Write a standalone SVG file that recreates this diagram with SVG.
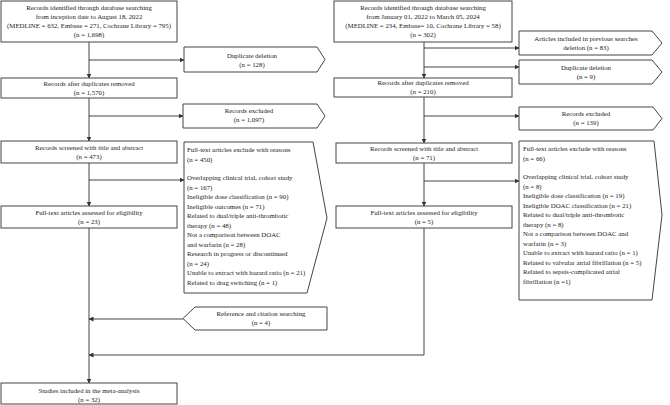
<svg xmlns="http://www.w3.org/2000/svg" width="670" height="405" viewBox="0 0 670 405">
<defs>
<marker id="ah" markerUnits="userSpaceOnUse" markerWidth="5" markerHeight="5" refX="4.5" refY="2.5" orient="auto">
<path d="M0,0 L5,2.5 L0,5 Z" fill="#333"/>
</marker>
<style>
.b{fill:#fff;stroke:#444;stroke-width:1}
.t{font-family:"Liberation Serif","Times New Roman",serif;font-size:6.8px;fill:#222}
.c{text-anchor:middle}
.l{fill:none;stroke:#444;stroke-width:1}
</style>
</defs>
<rect width="670" height="405" fill="#fff"/>
<g id="connectors">
<line class="l" x1="89" y1="42" x2="89" y2="78" marker-end="url(#ah)"/>
<line class="l" x1="89" y1="60" x2="184" y2="60" marker-end="url(#ah)"/>
<line class="l" x1="89" y1="98" x2="89" y2="141" marker-end="url(#ah)"/>
<line class="l" x1="89" y1="116" x2="183" y2="116" marker-end="url(#ah)"/>
<line class="l" x1="89" y1="163" x2="89" y2="206" marker-end="url(#ah)"/>
<line class="l" x1="89" y1="180" x2="184" y2="180" marker-end="url(#ah)"/>
<line class="l" x1="89" y1="228" x2="89" y2="383" marker-end="url(#ah)"/>
<line class="l" x1="183" y1="319" x2="89" y2="319" marker-end="url(#ah)"/>
<path class="l" d="M424,228 L424,355 L89,355" marker-end="url(#ah)"/>
<line class="l" x1="424" y1="42" x2="424" y2="78" marker-end="url(#ah)"/>
<line class="l" x1="424" y1="48" x2="519" y2="48" marker-end="url(#ah)"/>
<line class="l" x1="424" y1="67" x2="519" y2="67" marker-end="url(#ah)"/>
<line class="l" x1="424" y1="97" x2="424" y2="143" marker-end="url(#ah)"/>
<line class="l" x1="424" y1="116" x2="519" y2="116" marker-end="url(#ah)"/>
<line class="l" x1="424" y1="163" x2="424" y2="206" marker-end="url(#ah)"/>
<line class="l" x1="424" y1="181" x2="519" y2="181" marker-end="url(#ah)"/>
</g>
<g id="l-identified">
<rect class="b" x="1" y="1" width="176" height="41"/>
<text class="t c" x="89" y="10">Records identified through database searching</text>
<text class="t c" x="89" y="19">from inception date to August 18, 2022</text>
<text class="t c" x="89" y="28">(MEDLINE = 632, Embase = 271, Cochrane Library = 795)</text>
<text class="t c" x="89" y="37">(n = 1,698)</text>
</g>
<g id="l-dup">
<polygon class="b" points="184,47 317,47 325,59.5 317,72 184,72"/>
<text class="t c" x="252" y="58">Duplicate deletion</text>
<text class="t c" x="252" y="67">(n = 128)</text>
</g>
<g id="l-after">
<rect class="b" x="1" y="78" width="176" height="20"/>
<text class="t c" x="89" y="85.5">Records after duplicates removed</text>
<text class="t c" x="89" y="95">(n = 1,570)</text>
</g>
<g id="l-excluded">
<polygon class="b" points="183,104 317,104 325,116 317,128 183,128"/>
<text class="t c" x="249" y="113">Records excluded</text>
<text class="t c" x="249" y="122">(n = 1,097)</text>
</g>
<g id="l-screened">
<rect class="b" x="1" y="141" width="176" height="22"/>
<text class="t c" x="89" y="150">Records screened with title and abstract</text>
<text class="t c" x="89" y="159">(n = 473)</text>
</g>
<g id="l-fulltext-excl">
<polygon class="b" points="184,142 313,142 327,218 307,293 184,293"/>
<text class="t" x="187" y="152">Full-text articles exclude with reasons</text>
<text class="t" x="187" y="161.5">(n = 450)</text>
<text class="t" x="187" y="180">Overlapping clinical trial, cohort study</text>
<text class="t" x="187" y="189.5">(n = 167)</text>
<text class="t" x="187" y="199">Ineligible dose classification (n = 90)</text>
<text class="t" x="187" y="208.5">Ineligible outcomes (n = 71)</text>
<text class="t" x="187" y="218">Related to dual/triple anti-thrombotic</text>
<text class="t" x="187" y="227.5">therapy (n = 48)</text>
<text class="t" x="187" y="237">Not a comparison between DOAC</text>
<text class="t" x="187" y="246.5">and warfarin (n = 28)</text>
<text class="t" x="187" y="256">Research in progress or discontinued</text>
<text class="t" x="187" y="265.5">(n = 24)</text>
<text class="t" x="187" y="275">Unable to extract with hazard ratio (n = 21)</text>
<text class="t" x="187" y="284.5">Related to drug switching (n = 1)</text>
</g>
<g id="l-fulltext">
<rect class="b" x="1" y="206" width="176" height="22"/>
<text class="t c" x="89" y="214.5">Full-text articles assessed for eligibility</text>
<text class="t c" x="89" y="223.5">(n = 23)</text>
</g>
<g id="l-reference">
<polygon class="b" points="183,318.5 195,307 327,307 327,330 195,330"/>
<text class="t c" x="261" y="316">Reference and citation searching</text>
<text class="t c" x="261" y="325">(n = 4)</text>
</g>
<g id="l-included">
<rect class="b" x="1" y="383" width="176" height="21"/>
<text class="t c" x="89" y="393">Studies included in the meta-analysis</text>
<text class="t c" x="89" y="402">(n = 32)</text>
</g>
<g id="r-identified">
<rect class="b" x="334" y="1" width="178" height="41"/>
<text class="t c" x="423" y="10">Records identified through database searching</text>
<text class="t c" x="423" y="19">from January 01, 2022 to March 05, 2024</text>
<text class="t c" x="423" y="28">(MEDLINE = 234, Embase= 10, Cochrane Library = 58)</text>
<text class="t c" x="423" y="37">(n = 302)</text>
</g>
<g id="r-prev">
<polygon class="b" points="519,31 652,31 662,43 652,55 519,55"/>
<text class="t c" x="586" y="41">Articles included in previous searches</text>
<text class="t c" x="586" y="50">deletion (n = 83)</text>
</g>
<g id="r-dup">
<polygon class="b" points="519,60 652,60 662,72 652,84 519,84"/>
<text class="t c" x="586" y="70">Duplicate deletion</text>
<text class="t c" x="586" y="79">(n = 9)</text>
</g>
<g id="r-after">
<rect class="b" x="334" y="78" width="178" height="19"/>
<text class="t c" x="423" y="85">Records after duplicates removed</text>
<text class="t c" x="423" y="94">(n = 210)</text>
</g>
<g id="r-excluded">
<polygon class="b" points="519,107 653,107 662,118.5 653,130 519,130"/>
<text class="t c" x="586" y="116">Records excluded</text>
<text class="t c" x="586" y="125">(n = 139)</text>
</g>
<g id="r-screened">
<rect class="b" x="336" y="143" width="176" height="20"/>
<text class="t c" x="424" y="151">Records screened with title and abstract</text>
<text class="t c" x="424" y="160">(n = 71)</text>
</g>
<g id="r-fulltext-excl">
<polygon class="b" points="519,141 654,141 662,215 652,300 519,300"/>
<text class="t" x="523" y="151">Full-text articles exclude with reasons</text>
<text class="t" x="523" y="160.5">(n = 66)</text>
<text class="t" x="523" y="179">Overlapping clinical trial, cohort study</text>
<text class="t" x="523" y="188.5">(n = 8)</text>
<text class="t" x="523" y="198">Ineligible dose classification (n = 19)</text>
<text class="t" x="523" y="207.5">Ineligible DOAC classification (n = 21)</text>
<text class="t" x="523" y="217">Related to dual/triple anti-thrombotic</text>
<text class="t" x="523" y="226.5">therapy (n = 8)</text>
<text class="t" x="523" y="236">Not a comparison between DOAC and</text>
<text class="t" x="523" y="245.5">warfarin (n = 3)</text>
<text class="t" x="523" y="255">Unable to extract with hazard ratio (n = 1)</text>
<text class="t" x="523" y="264.5">Related to valvular atrial fibrillation (n = 5)</text>
<text class="t" x="523" y="274">Related to sepsis-complicated atrial</text>
<text class="t" x="523" y="283.5">fibrillation (n =1)</text>
</g>
<g id="r-fulltext">
<rect class="b" x="336" y="206" width="176" height="22"/>
<text class="t c" x="424" y="214.5">Full-text articles assessed for eligibility</text>
<text class="t c" x="424" y="223.5">(n = 5)</text>
</g>
</svg>
